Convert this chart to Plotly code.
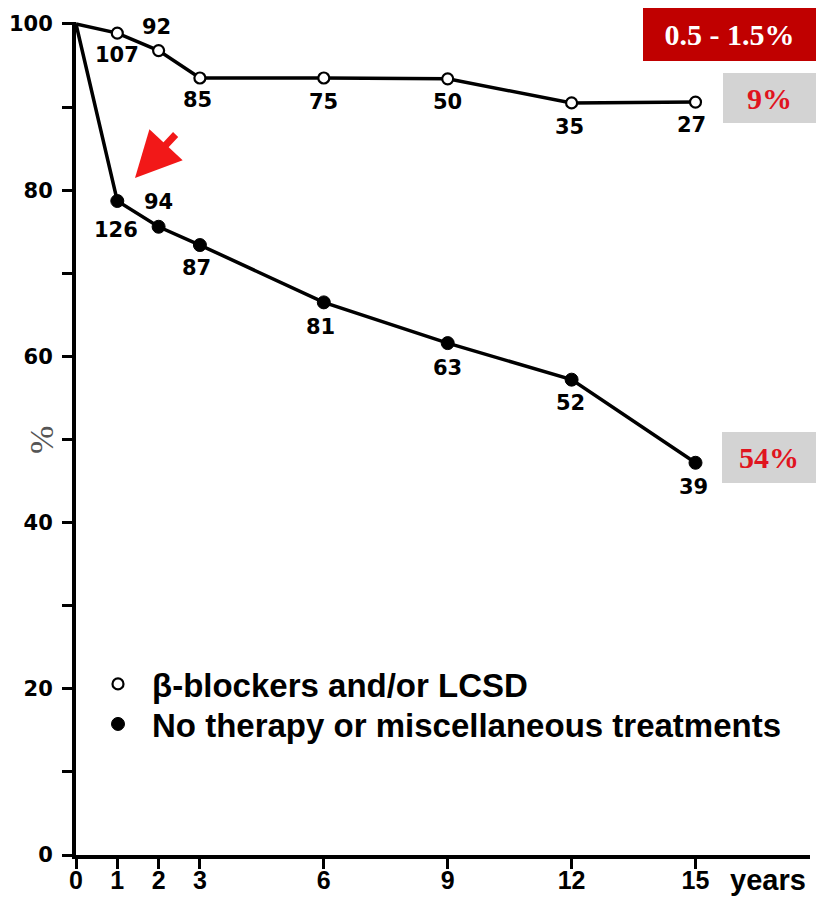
import plotly.graph_objects as go

years = [0, 1, 2, 3, 6, 9, 12, 15]
treated = [100, 98.9, 96.8, 93.5, 93.5, 93.4, 90.5, 90.6]
untreated = [100, 78.7, 75.6, 73.4, 66.5, 61.6, 57.2, 47.2]
treated_n = [None, "107", "92", "85", "75", "50", "35", "27"]
untreated_n = [None, "126", "94", "87", "81", "63", "52", "39"]
treated_name = "β-blockers and/or LCSD"
untreated_name = "No therapy or miscellaneous treatments"
y_ticks = [0, 10, 20, 30, 40, 50, 60, 70, 80, 90, 100]
y_ticktext = ["0", "", "20", "", "40", "", "60", "", "80", "", "100"]
x_ticks = [0, 1, 2, 3, 6, 9, 12, 15]
box_texts = ["0.5 - 1.5%", "9%", "54%"]

# label placement (above/below the point) in pixels
treated_dy = [0, 22, -24, 22, 24, 23, 24, 23]
treated_dx = [0, 0, -2, -2, 0, 0, -2, -4]
untreated_dy = [0, 29, -25, 23, 25, 25, 23, 24]
untreated_dx = [0, -1, 0, -3, -3, 0, -1, -2]

SANS = "Liberation Sans, Arial, sans-serif"
BOLDFONT = "DejaVu Sans, Verdana, sans-serif"
SERIF = "Liberation Serif, Times New Roman, serif"

W, H = 816, 900
L, R, T, B = 76, 6, 22, 45
PW, PH = W - L - R, H - T - B
XPX = 41.3
YPX = PH / 100.24


def px(xp):
    return (xp - L) / PW


def py(yp):
    return (H - B - yp) / PH


fig = go.Figure()
fig.add_trace(go.Scatter(x=years, y=treated, mode="lines", line=dict(color="black", width=3.5),
                         showlegend=False, hoverinfo="skip"))
fig.add_trace(go.Scatter(x=years, y=untreated, mode="lines", line=dict(color="black", width=3.5),
                         showlegend=False, hoverinfo="skip"))
fig.add_trace(go.Scatter(x=years[1:], y=treated[1:], mode="markers", name="<b>%s</b>" % treated_name,
                         legend="legend",
                         marker=dict(symbol="circle", size=11, color="white",
                                     line=dict(color="black", width=2.2))))
fig.add_trace(go.Scatter(x=years[1:], y=untreated[1:], mode="markers", name="<b>%s</b>" % untreated_name,
                         legend="legend2",
                         marker=dict(symbol="circle", size=13, color="black",
                                     line=dict(color="black", width=1))))

ann = []
for i in range(1, len(years)):
    ann.append(dict(x=years[i], y=treated[i], text=treated_n[i], showarrow=False,
                    xshift=treated_dx[i], yshift=-treated_dy[i],
                    font=dict(family=BOLDFONT, size=21, color="black", weight="bold")))
    ann.append(dict(x=years[i], y=untreated[i], text=untreated_n[i], showarrow=False,
                    xshift=untreated_dx[i], yshift=-untreated_dy[i],
                    font=dict(family=BOLDFONT, size=21, color="black", weight="bold")))

# red arrow (tip near the first drop of the untreated curve)
ann.append(dict(x=(135 - L) / XPX, y=(H - B - 178) / YPX, xref="x", yref="y",
                showarrow=True, ax=42, ay=-45, arrowcolor="#F21818", arrowwidth=7,
                arrowhead=2, arrowsize=1.3, text=""))

# boxes
ann.append(dict(xref="paper", yref="paper", x=px(816), y=py(8), xanchor="right", yanchor="top",
                width=173, height=53, bgcolor="#C00000", borderpad=0, borderwidth=0,
                text="<b>%s</b>" % box_texts[0], showarrow=False,
                font=dict(family=SERIF, size=30, color="white")))
ann.append(dict(xref="paper", yref="paper", x=px(816), y=py(73), xanchor="right", yanchor="top",
                width=93, height=50, bgcolor="#D3D3D3", borderpad=0, borderwidth=0,
                text="<b>%s</b>" % box_texts[1], showarrow=False,
                font=dict(family=SERIF, size=30, color="#E0141E")))
ann.append(dict(xref="paper", yref="paper", x=px(816), y=py(432), xanchor="right", yanchor="top",
                width=94, height=51, bgcolor="#D3D3D3", borderpad=0, borderwidth=0,
                text="<b>%s</b>" % box_texts[2], showarrow=False,
                font=dict(family=SERIF, size=30, color="#E0141E")))

# % axis title
ann.append(dict(xref="paper", yref="paper", x=px(42), y=py(440), xanchor="center", yanchor="middle",
                text="%", textangle=-90, showarrow=False,
                font=dict(family=SERIF, size=34, color="#555555")))
# years label
ann.append(dict(xref="paper", yref="paper", x=px(768), y=py(880), xanchor="center", yanchor="middle",
                text="<b>years</b>", showarrow=False,
                font=dict(family=SANS, size=29, color="black")))

legend_style = dict(xanchor="left", yanchor="top", bgcolor="rgba(0,0,0,0)", borderwidth=0,
                    font=dict(family=SANS, size=33, color="black"),
                    itemsizing="trace", itemwidth=58)

fig.update_layout(
    width=W, height=H,
    margin=dict(l=L, r=R, t=T, b=B, autoexpand=False),
    paper_bgcolor="white", plot_bgcolor="white",
    annotations=ann,
    showlegend=True,
    legend=dict(x=px(84), y=py(656), **legend_style),
    legend2=dict(x=px(84), y=py(696), **legend_style),
    xaxis=dict(range=[0, PW / XPX], showgrid=False, zeroline=False, showline=True,
               automargin=False, ticklabelstandoff=-10,
               linecolor="black", linewidth=4, ticks="outside", ticklen=10, tickwidth=3,
               tickcolor="black", tickvals=x_ticks, ticktext=[str(v) for v in x_ticks],
               tickfont=dict(family=SANS, size=25, color="black", weight="bold")),
    yaxis=dict(range=[0, 100.24], showgrid=False, zeroline=False, showline=True,
               automargin=False,
               linecolor="black", linewidth=4, ticks="outside", ticklen=10, tickwidth=3,
               tickcolor="black", tickvals=y_ticks, ticktext=y_ticktext, ticklabelstandoff=5,
               tickfont=dict(family=BOLDFONT, size=21, color="black", weight="bold")),
)

fig.write_html("out.html", config={"displayModeBar": False},
               post_script="document.body.style.margin='0px';")
